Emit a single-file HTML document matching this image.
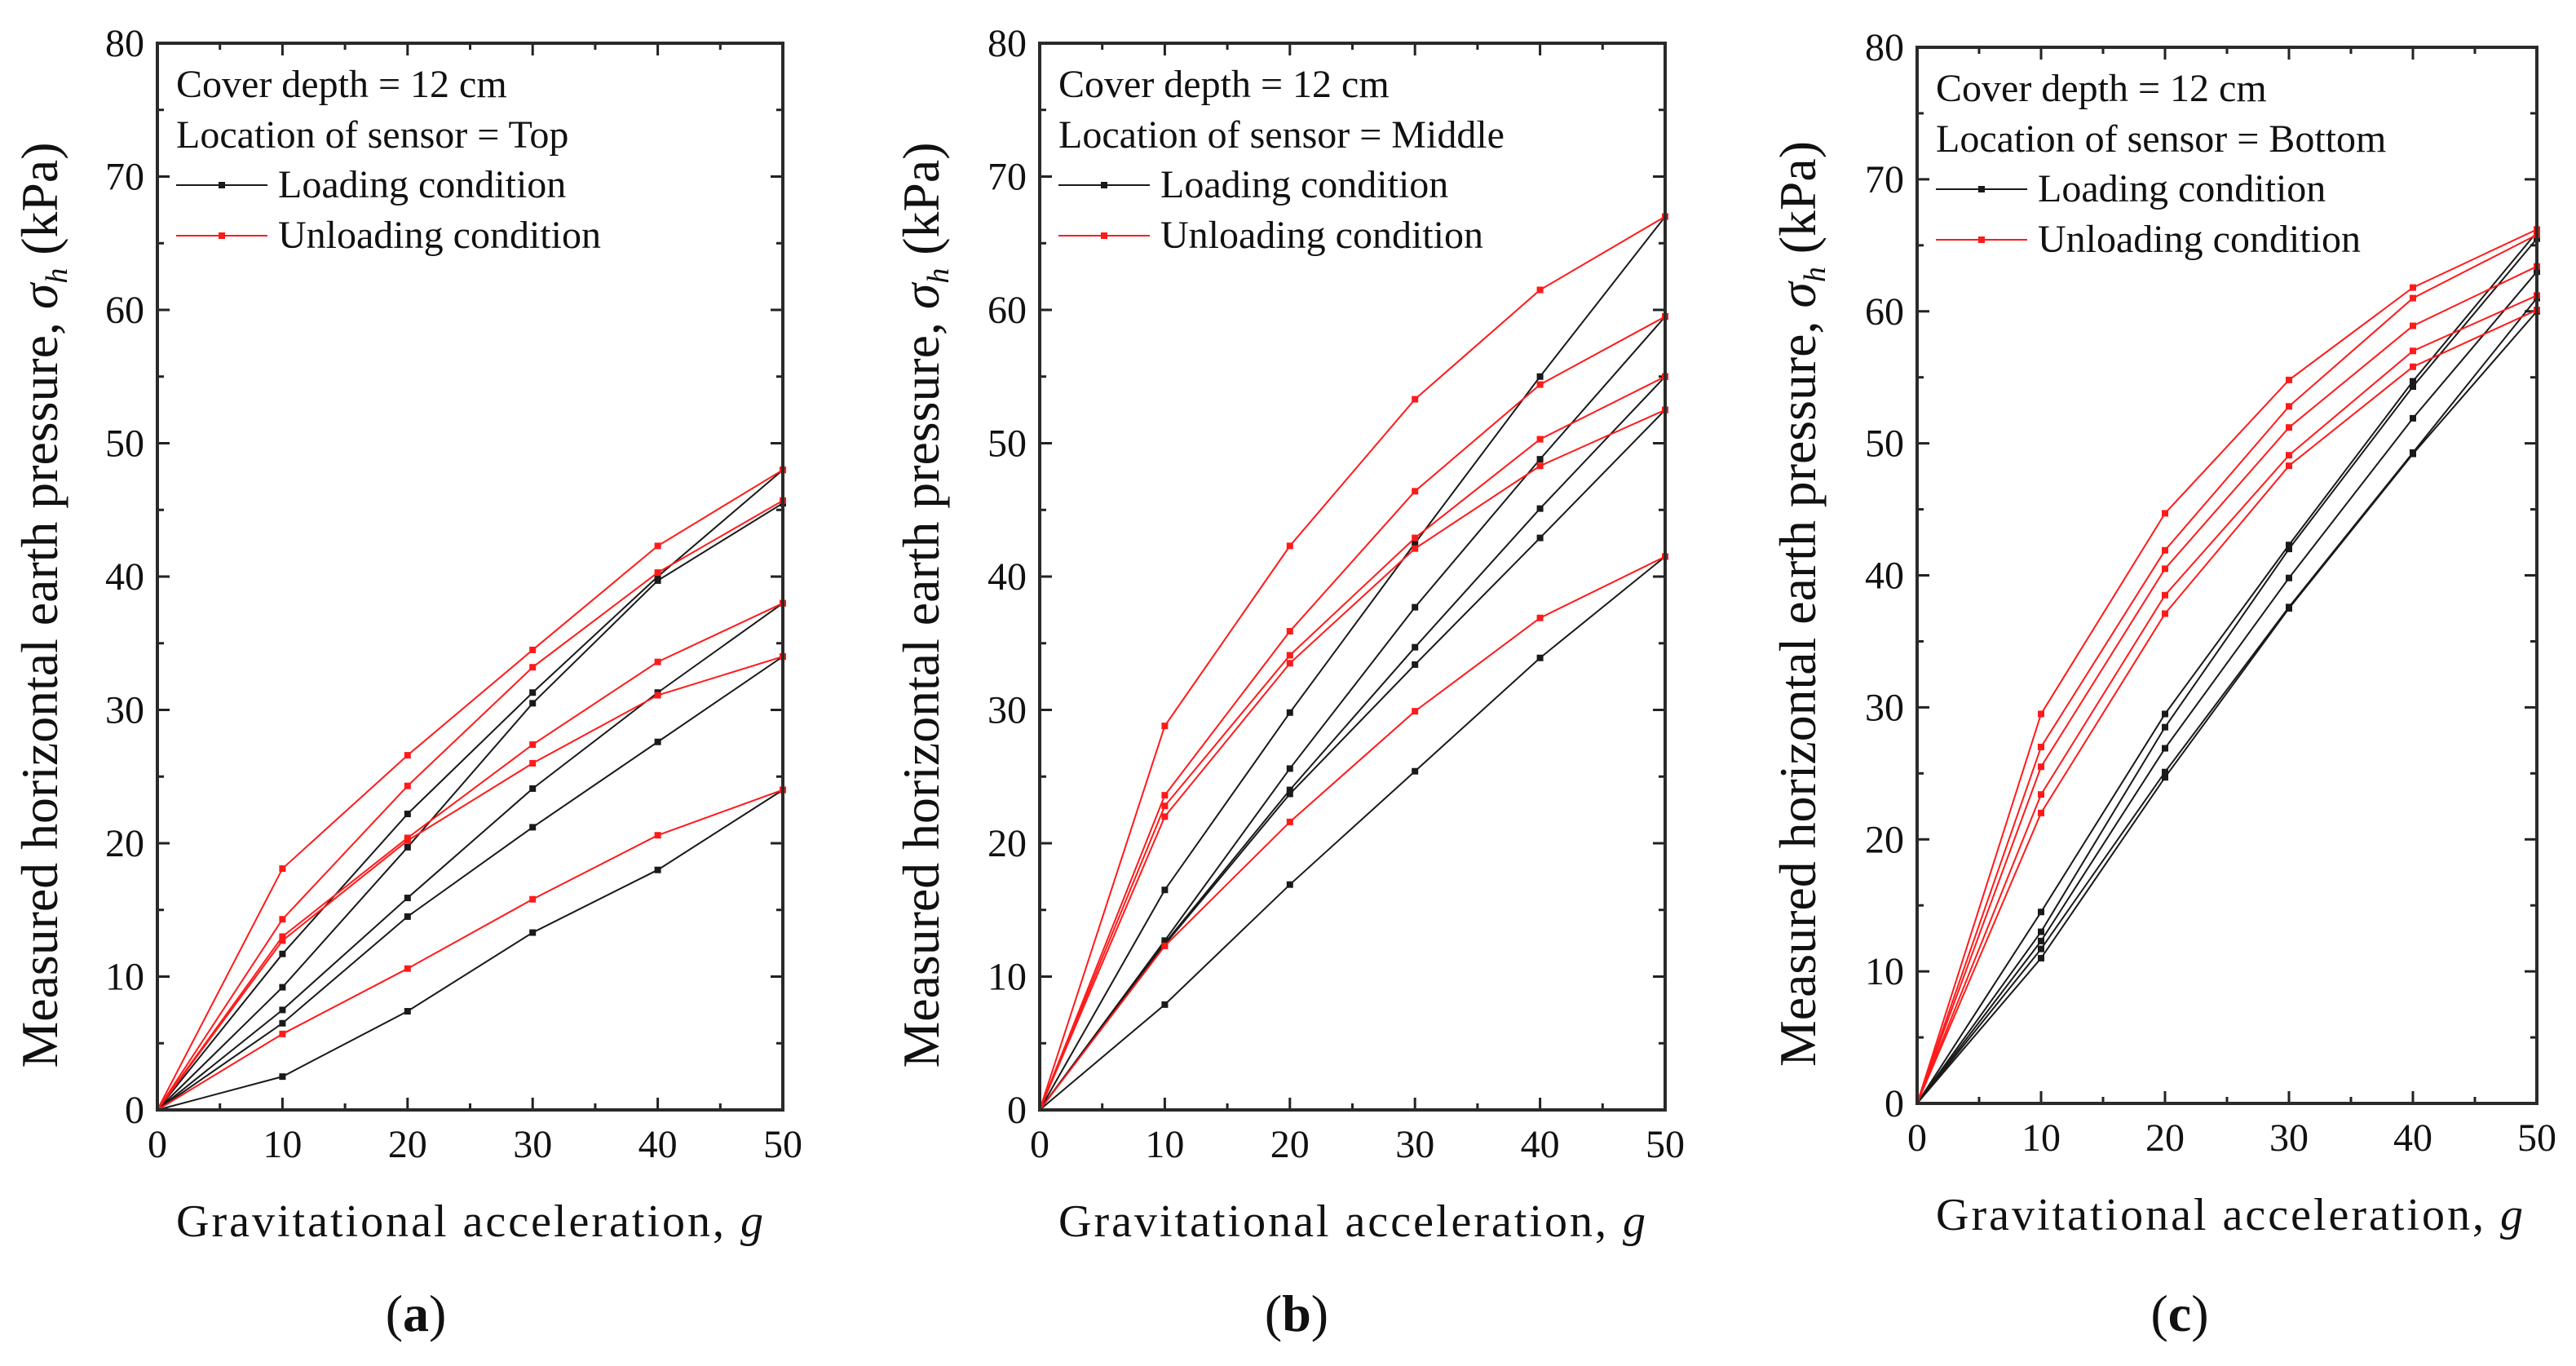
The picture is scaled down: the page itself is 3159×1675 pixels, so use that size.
<!DOCTYPE html>
<html><head><meta charset="utf-8">
<style>
html,body{margin:0;padding:0;background:#fff;}
svg{display:block;font-family:"Liberation Serif",serif;}
</style></head>
<body>
<svg id="fig" width="3159" height="1675" viewBox="0 0 3159 1675" xmlns="http://www.w3.org/2000/svg"></svg>
<script>
const xCats = [0, 10, 20, 30, 40, 50];
const yTicks = [0, 10, 20, 30, 40, 50, 60, 70, 80];
const xTicks = [0, 10, 20, 30, 40, 50];
// Panel (a) Top
const aLoad1 = [0, 11.7, 22.2, 31.3, 40, 48];
const aLoad2 = [0, 9.2, 19.7, 30.5, 39.7, 45.5];
const aLoad3 = [0, 7.5, 15.9, 24.1, 31.3, 38];
const aLoad4 = [0, 6.5, 14.5, 21.2, 27.6, 34];
const aLoad5 = [0, 2.5, 7.4, 13.3, 18, 24];
const aUnl1 = [0, 18.1, 26.6, 34.5, 42.3, 48];
const aUnl2 = [0, 14.3, 24.3, 33.2, 40.3, 45.7];
const aUnl3 = [0, 13, 20.4, 27.4, 33.6, 38];
const aUnl4 = [0, 12.7, 20.2, 26, 31.1, 34];
const aUnl5 = [0, 5.7, 10.6, 15.8, 20.6, 24];
// Panel (b) Middle
const bLoad1 = [0, 16.5, 29.8, 42.5, 55, 67];
const bLoad2 = [0, 12.7, 25.6, 37.7, 48.8, 59.5];
const bLoad3 = [0, 12.5, 24, 34.7, 45.1, 55];
const bLoad4 = [0, 12.4, 23.7, 33.4, 42.9, 52.5];
const bLoad5 = [0, 7.9, 16.9, 25.4, 33.9, 41.5];
const bUnl1 = [0, 28.8, 42.3, 53.3, 61.5, 67];
const bUnl2 = [0, 23.6, 35.9, 46.4, 54.4, 59.5];
const bUnl3 = [0, 22.8, 34.1, 42.9, 50.3, 55];
const bUnl4 = [0, 22, 33.5, 42.1, 48.3, 52.5];
const bUnl5 = [0, 12.3, 21.6, 29.9, 36.9, 41.5];
// Panel (c) Bottom
const cLoad1 = [0, 14.5, 29.5, 42.3, 54.7, 66];
const cLoad2 = [0, 13, 28.5, 42, 54.3, 65.5];
const cLoad3 = [0, 12.3, 26.9, 39.8, 51.9, 63];
const cLoad4 = [0, 11.7, 25.1, 37.6, 49.3, 61];
const cLoad5 = [0, 11, 24.7, 37.5, 49.2, 60];
const cUnl1 = [0, 29.5, 44.7, 54.8, 61.8, 66.2];
const cUnl2 = [0, 27, 41.9, 52.8, 61, 65.8];
const cUnl3 = [0, 25.5, 40.5, 51.2, 58.9, 63.4];
const cUnl4 = [0, 23.4, 38.5, 49.1, 57, 61.2];
const cUnl5 = [0, 22, 37.1, 48.3, 55.8, 60.1];
const locations = ["Top", "Middle", "Bottom"];
const panelLetters = ["a", "b", "c"];

const NS = "http://www.w3.org/2000/svg";
const svg = document.getElementById("fig");
function mk(tag, attrs, parent) {
  const e = document.createElementNS(NS, tag);
  for (const k in attrs) e.setAttribute(k, attrs[k]);
  (parent || svg).appendChild(e);
  return e;
}

const panels = [
  {L: 193, R: 960, T: 53, B: 1361, ytx: 70, lx: 510, load: [aLoad1,aLoad2,aLoad3,aLoad4,aLoad5], unl: [aUnl1,aUnl2,aUnl3,aUnl4,aUnl5]},
  {L: 1275, R: 2042, T: 53, B: 1361, ytx: 1151, lx: 1590, load: [bLoad1,bLoad2,bLoad3,bLoad4,bLoad5], unl: [bUnl1,bUnl2,bUnl3,bUnl4,bUnl5]},
  {L: 2351, R: 3111, T: 58, B: 1353, ytx: 2226, lx: 2673, load: [cLoad1,cLoad2,cLoad3,cLoad4,cLoad5], unl: [cUnl1,cUnl2,cUnl3,cUnl4,cUnl5]}
];

panels.forEach((p, pi) => {
  const g = mk("g", {});
  
  
  const xs = v => p.L + (v / 50) * (p.R - p.L);
  const ys = v => p.B - (v / 80) * (p.B - p.T);

  const tg = mk("g", {stroke: "#222", "stroke-width": 3}, g);
  
  
  for (let v = 0; v <= 80; v += 5) {
    const len = v % 10 === 0 ? 15 : 8;
    mk("line", {x1: p.L, x2: p.L + len, y1: ys(v), y2: ys(v)}, tg);
    mk("line", {x1: p.R, x2: p.R - len, y1: ys(v), y2: ys(v)}, tg);
  }
  for (let v = 0; v <= 50; v += 5) {
    const len = v % 10 === 0 ? 15 : 8;
    mk("line", {x1: xs(v), x2: xs(v), y1: p.B, y2: p.B - len}, tg);
    mk("line", {x1: xs(v), x2: xs(v), y1: p.T, y2: p.T + len}, tg);
  }

  const drawSeries = (arr, color, name) => {
    const sg = mk("g", {}, g);
    
    
    const pts = arr.map((v, i) => xs(xCats[i]) + "," + ys(v)).join(" ");
    mk("polyline", {points: pts, fill: "none", stroke: color, "stroke-width": 2}, sg);
    arr.forEach((v, i) => {
      if (i === 0) return;
      const r = mk("rect", {x: xs(xCats[i]) - 4, y: ys(v) - 4, width: 8, height: 8, fill: color}, sg);
      
      
    });
  };
  p.load.forEach((arr, i) => drawSeries(arr, "#1a1a1a", "loading-series-" + (i + 1)));
  p.unl.forEach((arr, i) => drawSeries(arr, "#ff1a1a", "unloading-series-" + (i + 1)));

  const fr = mk("rect", {x: p.L, y: p.T, width: p.R - p.L, height: p.B - p.T, fill: "none", stroke: "#2a2a2a", "stroke-width": 4}, g);
  
  

  yTicks.forEach(v => {
    const t = mk("text", {x: p.L - 16, y: ys(v) + 16, "font-size": 48, "text-anchor": "end", fill: "#111"}, g);
    t.textContent = v;
    
    
  });
  xTicks.forEach(v => {
    const t = mk("text", {x: xs(v), y: p.B + 58, "font-size": 48, "text-anchor": "middle", fill: "#111"}, g);
    t.textContent = v;
    
    
  });

  const xt = mk("text", {x: p.L + 23, y: p.B + 155, "font-size": 56, fill: "#111", textLength: 720, lengthAdjust: "spacing"}, g);
  xt.innerHTML = 'Gravitational acceleration, <tspan font-style="italic">g</tspan>';
  
  
  const cy = (p.T + p.B) / 2 + 35;
  const yt = mk("text", {x: 0, y: 0, "font-size": 64, fill: "#111", "text-anchor": "middle", transform: `translate(${p.ytx},${cy}) rotate(-90)`, textLength: 1135, lengthAdjust: "spacingAndGlyphs"}, g);
  yt.innerHTML = 'Measured horizontal earth pressure, <tspan font-style="italic">σ</tspan><tspan font-style="italic" font-size="38" dy="12">h</tspan><tspan dy="-12"> (kPa)</tspan>';
  
  

  const lg = mk("g", {}, g);
  
  
  const lx = p.L + 23;
  const l1 = mk("text", {x: lx, y: p.T + 66, "font-size": 48, fill: "#111"}, lg);
  l1.textContent = "Cover depth = 12 cm";
  
  
  const l2 = mk("text", {x: lx, y: p.T + 128, "font-size": 48, fill: "#111"}, lg);
  l2.textContent = "Location of sensor = " + locations[pi];
  
  
  [["Loading condition", "#1a1a1a", 174], ["Unloading condition", "#ff1a1a", 236]].forEach(([lab, col, dy], k) => {
    const e = mk("g", {}, lg);
    
    
    const yy = p.T + dy;
    mk("line", {x1: lx, x2: lx + 112, y1: yy, y2: yy, stroke: col, "stroke-width": 2}, e);
    mk("rect", {x: lx + 52, y: yy - 4, width: 8, height: 8, fill: col}, e);
    const t = mk("text", {x: lx + 125, y: yy + 15, "font-size": 48, fill: "#111"}, e);
    t.textContent = lab;
  });

  const pl = mk("text", {x: p.lx, y: 1632, "font-size": 64, "text-anchor": "middle", fill: "#111"}, g);
  pl.innerHTML = '(<tspan font-weight="bold">' + panelLetters[pi] + '</tspan>)';
  
  
});
</script>
</body></html>
